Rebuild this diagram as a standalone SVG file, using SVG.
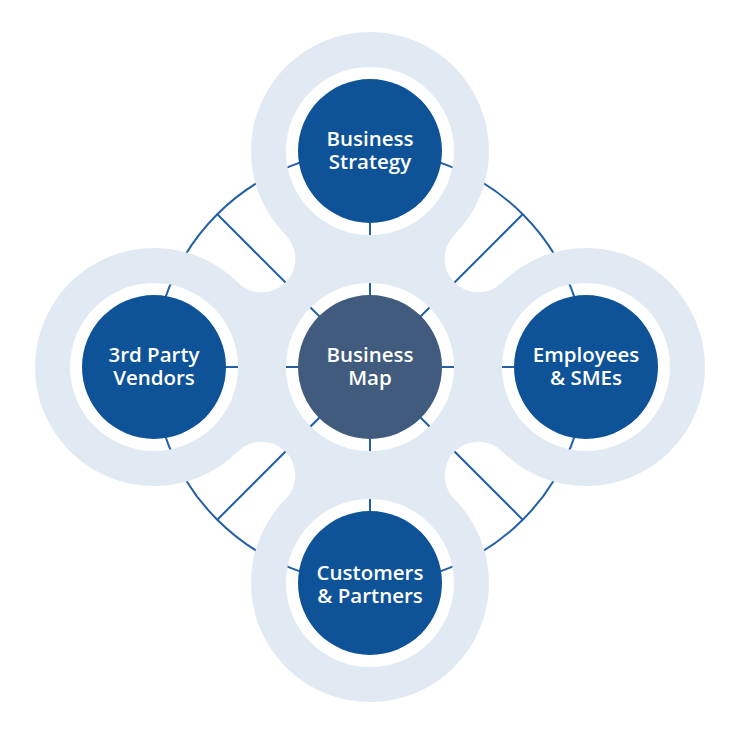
<svg xmlns="http://www.w3.org/2000/svg" width="740" height="740" viewBox="0 0 740 740">
  <style>
    .ln { fill: none; stroke: #2260a6; stroke-width: 2; }
    .node { fill: #0e5297; }
    .hub { fill: #405b7d; }
    .lbl { fill: #ffffff; font-family: "Open Sans", "Liberation Sans", sans-serif; font-weight: 600; font-size: 20.5px; text-anchor: middle; }
  </style>
  <rect width="740" height="740" fill="#ffffff"/>
  <g id="connectors">
    <circle class="ln" cx="370" cy="367" r="216"/>
    <line class="ln" x1="370" y1="367" x2="370" y2="151"/>
    <line class="ln" x1="370" y1="367" x2="586" y2="367"/>
    <line class="ln" x1="370" y1="367" x2="370" y2="583"/>
    <line class="ln" x1="370" y1="367" x2="154" y2="367"/>
    <line class="ln" x1="370" y1="367" x2="217.3" y2="214.3"/>
    <line class="ln" x1="370" y1="367" x2="522.7" y2="214.3"/>
    <line class="ln" x1="370" y1="367" x2="522.7" y2="519.7"/>
    <line class="ln" x1="370" y1="367" x2="217.3" y2="519.7"/>
  </g>
  <path id="backdrop" fill="#e1e9f2" fill-rule="evenodd" d="M 285.854 235.146 A 119 119 0 1 1 454.146 235.146 A 33.74 33.74 0 0 0 501.854 282.854 A 119 119 0 1 1 501.854 451.146 A 33.74 33.74 0 0 0 454.146 498.854 A 119 119 0 1 1 285.854 498.854 A 33.74 33.74 0 0 0 238.146 451.146 A 119 119 0 1 1 238.146 282.854 A 33.74 33.74 0 0 0 285.854 235.146 Z M 286 367 a 84 84 0 1 0 168 0 a 84 84 0 1 0 -168 0 Z M 286 151 a 84 84 0 1 0 168 0 a 84 84 0 1 0 -168 0 Z M 286 583 a 84 84 0 1 0 168 0 a 84 84 0 1 0 -168 0 Z M 70 367 a 84 84 0 1 0 168 0 a 84 84 0 1 0 -168 0 Z M 502 367 a 84 84 0 1 0 168 0 a 84 84 0 1 0 -168 0 Z"/>
  <g id="business-map">
    <circle class="hub" cx="370" cy="367" r="72"/>
    <text class="lbl" x="370" y="362">Business</text>
    <text class="lbl" x="370" y="385">Map</text>
  </g>
  <g id="business-strategy">
    <circle class="node" cx="370" cy="151" r="72"/>
    <text class="lbl" x="370" y="146">Business</text>
    <text class="lbl" x="370" y="169">Strategy</text>
  </g>
  <g id="employees-smes">
    <circle class="node" cx="586" cy="367" r="72"/>
    <text class="lbl" x="586" y="362">Employees</text>
    <text class="lbl" x="586" y="385">&amp; SMEs</text>
  </g>
  <g id="customers-partners">
    <circle class="node" cx="370" cy="583" r="72"/>
    <text class="lbl" x="370" y="580">Customers</text>
    <text class="lbl" x="370" y="603">&amp; Partners</text>
  </g>
  <g id="third-party-vendors">
    <circle class="node" cx="154" cy="367" r="72"/>
    <text class="lbl" x="154" y="362">3rd Party</text>
    <text class="lbl" x="154" y="385">Vendors</text>
  </g>
</svg>
